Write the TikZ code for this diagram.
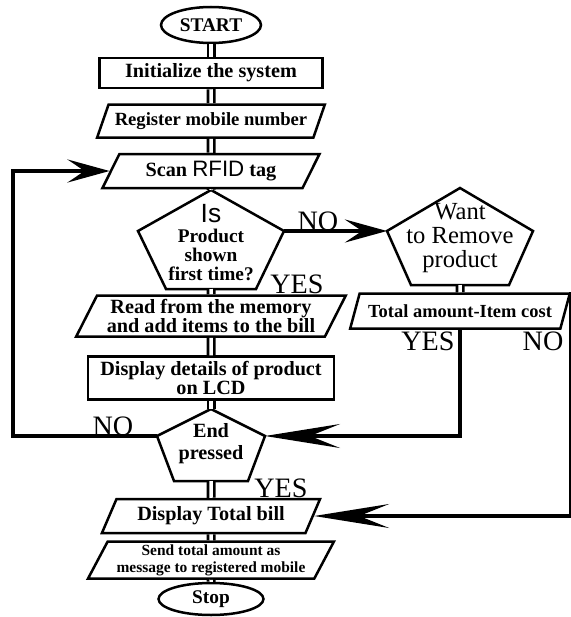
\documentclass[tikz,border=0pt]{standalone}
\usepackage{fontspec}
\setmainfont{Liberation Serif}
\newfontfamily\sansfont{Liberation Sans}
\usepackage{tikz}
\usetikzlibrary{shapes.geometric, arrows.meta}

\tikzset{
  term/.style={draw, line width=0.5mm, ellipse, inner sep=0pt, font=\bfseries\fontsize{11}{12}\selectfont},
  proc/.style={draw, line width=0.5mm, rectangle, inner sep=1pt, align=center, font=\bfseries\fontsize{11.5}{10.5}\selectfont},
  io/.style={draw, line width=0.5mm, trapezium, trapezium left angle=62, trapezium right angle=118,
    trapezium stretches=true, inner sep=1pt, align=center, font=\bfseries\fontsize{11.5}{10.5}\selectfont},
  outline/.style={line width=0.5mm, line join=miter},
  ptext/.style={align=center, inner sep=0pt, font=\bfseries\fontsize{11}{11}\selectfont},
  link/.style={double, line width=0.55mm, double distance=0.7mm},
  flow/.style={line width=0.9mm},
  tipS/.style={-{Stealth[length=8.4mm,width=4.6mm,inset=3.4mm]}},
  tipL/.style={-{Stealth[length=15mm,width=4.8mm,inset=6mm]}},
  lab/.style={font=\fontsize{16}{16}\selectfont, inner sep=0pt}
}

\begin{document}
\begin{tikzpicture}[x=0.2mm, y=-0.2mm]
    \useasboundingbox (0,0) rectangle (571,617);

    % main column
    \node[term, minimum width=20mm, minimum height=7.2mm] (start) at (211,25) {START};
    \node[proc, minimum width=44.6mm, minimum height=6mm] (init) at (211,73) {Initialize the system};
    \node[io, minimum width=45.6mm, minimum height=6.6mm, font=\bfseries\fontsize{10.6}{11}\selectfont] (reg) at (211,121) {Register mobile number};
    \node[io, minimum width=43.6mm, minimum height=6.8mm] (scan) at (211,171) {Scan {\sansfont\mdseries\fontsize{12.7}{13}\selectfont RFID} tag};

    % Is product shown first time?
    \draw[outline] (211,190) coordinate (q1t) -- (138,231) coordinate (q1l) -- (166,289) -- (256,289)
        -- (284,231) coordinate (q1r) -- cycle;
    \coordinate (q1b) at (211,289);
    \node[ptext] (q1) at (211,243) {{\sansfont\mdseries\fontsize{15}{15}\selectfont Is}\\Product\\shown\\first time?};

    \node[io, minimum width=54mm, minimum height=8.2mm] (read) at (211,316) {Read from the memory\\and add items to the bill};
    \node[proc, minimum width=49.2mm, minimum height=8.6mm] (lcd) at (211,378) {Display details of product\\on LCD};

    % End pressed
    \draw[outline] (211,409) coordinate (q3t) -- (157,436) coordinate (q3l) -- (174,481) -- (248,481)
        -- (265,436) coordinate (q3r) -- cycle;
    \coordinate (q3b) at (211,481);
    \node[ptext, font=\bfseries\fontsize{11.5}{12.5}\selectfont] (q3) at (211,444) {End\\pressed};

    \node[io, minimum width=44mm, minimum height=6.8mm] (total) at (211,516) {Display Total bill};
    \node[io, minimum width=49.2mm, minimum height=7.4mm, font=\bfseries\fontsize{8.8}{9.5}\selectfont] (send) at (211,560) {Send total amount as\\message to registered mobile};
    \node[term, minimum width=21mm, minimum height=6.4mm] (stop) at (211,599) {Stop};

    % right branch
    \draw[outline] (460,188) coordinate (q2t) -- (387,231) coordinate (q2l) -- (411,285) -- (509,285)
        -- (533,231) coordinate (q2r) -- cycle;
    \coordinate (q2b) at (460,285);
    \node[ptext, font=\fontsize{14}{13.7}\selectfont] (q2) at (460,238) {Want\\to Remove\\product};
    \node[io, minimum width=44mm, minimum height=7mm, font=\bfseries\fontsize{10.5}{11}\selectfont] (cost) at (460,311) {Total amount-Item cost};

    % links
    \draw[link] (start) -- (init);
    \draw[link] (init) -- (reg);
    \draw[link] (reg) -- (scan);
    \draw[link] (scan) -- (q1t);
    \draw[link] (q1b) -- (read);
    \draw[link] (read) -- (lcd);
    \draw[link] (lcd) -- (q3t);
    \draw[link] (q3b) -- (total);
    \draw[link] (total) -- (send);
    \draw[link] (send) -- (stop);
    \draw[link] (q2b) -- (cost);

    \draw[flow, tipS] (q1r) -- (q2l);
    \draw[flow, tipS] (q3l) -- ++(-144,0) |- (scan.west);
    \draw[flow, tipL] (cost.south) |- (q3r);
    \draw[flow, tipL] (cost.top right corner) |- (total.east);

    \node[lab] (no1) at (318,221) {NO};
    \node[lab] (yes1) at (297,284) {YES};
    \node[lab] (no2) at (113,426) {NO};
    \node[lab] (yes2) at (281,488) {YES};
    \node[lab] (yes3) at (428,341) {YES};
    \node[lab] (no3) at (543,341) {NO};
\end{tikzpicture}
\end{document}
